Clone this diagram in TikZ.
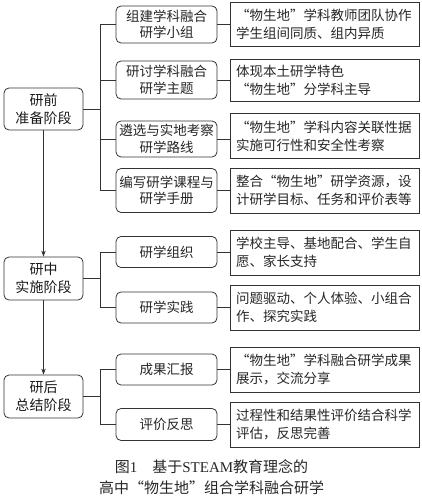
\documentclass[tikz,border=0pt]{standalone}
\usepackage{fontspec}
\setmainfont{Liberation Serif}
\newfontfamily\cjk{Noto Sans CJK SC}
\usetikzlibrary{arrows.meta}
\begin{document}
\begin{tikzpicture}[x=1pt,y=-1pt,
  line/.style={draw=black!80, line width=0.8pt},
  stagebox/.style={line, rounded corners=5pt, minimum width=79pt, align=center, inner sep=0pt, text=black!90,
    font=\cjk\fontsize{14}{18}\selectfont},
  midbox/.style={line, rounded corners=5pt, minimum width=101pt, align=center, inner sep=0pt, text=black!85,
    font=\cjk\fontsize{13.5}{16.5}\selectfont},
  rightbox/.style={line, text width=177pt, inner xsep=6pt, inner ysep=0pt, align=left, text=black!85,
    font=\cjk\fontsize{13.5}{18}\selectfont},
  conn/.style={line},
  arr/.style={line, -{Stealth[length=6pt,width=4.5pt]}}
]
\useasboundingbox (0,0) rectangle (422,500);

% stage boxes
\node[stagebox, minimum height=42pt] (s1) at (43.5,109) {研前\\准备阶段};
\node[stagebox, minimum height=43pt] (s2) at (43.5,278.5) {研中\\实施阶段};
\node[stagebox, minimum height=43pt] (s3) at (43.5,396.5) {研后\\总结阶段};

% middle boxes
\node[midbox, minimum height=37pt] (m1) at (166.5,24.5) {组建学科融合\\研学小组};
\node[midbox, minimum height=38pt] (m2) at (166.5,80) {研讨学科融合\\研学主题};
\node[midbox, minimum height=36pt] (m3) at (166.5,139) {遴选与实地考察\\研学路线};
\node[midbox, minimum height=44pt] (m4) at (166.5,190.5) {编写研学课程与\\研学手册};
\node[midbox, minimum height=31pt] (m5) at (166.5,252) {研学组织};
\node[midbox, minimum height=31pt] (m6) at (166.5,307.5) {研学实践};
\node[midbox, minimum height=31pt] (m7) at (166.5,369.5) {成果汇报};
\node[midbox, minimum height=32pt] (m8) at (166.5,424.5) {评价反思};

% right boxes
\node[rightbox, minimum height=44pt] (r1) at (324.5,24.5) {“物生地”学科教师团队协作\\学生组间同质、组内异质};
\node[rightbox, minimum height=42pt] (r2) at (324.5,80) {体现本土研学特色\\“物生地”分学科主导};
\node[rightbox, minimum height=45pt] (r3) at (324.5,136) {“物生地”学科内容关联性据\\实施可行性和安全性考察};
\node[rightbox, minimum height=45pt] (r4) at (324.5,190.5) {整合“物生地”研学资源，设\\计研学目标、任务和评价表等};
\node[rightbox, minimum height=45pt] (r5) at (324.5,252.5) {学校主导、基地配合、学生自\\愿、家长支持};
\node[rightbox, minimum height=45pt] (r6) at (324.5,307.5) {问题驱动、个人体验、小组合\\作、探究实践};
\node[rightbox, minimum height=45pt] (r7) at (324.5,369.5) {“物生地”学科融合研学成果\\展示，交流分享};
\node[rightbox, minimum height=45pt] (r8) at (324.5,424.5) {过程性和结果性评价结合科学\\评估，反思完善};

% trunks
\coordinate (t) at (100.5,0);
\draw[conn] (s1.east) -- (s1.east -| t);
\draw[conn] (m1.west) -- (m1.west -| t) -- (m4.west -| t) -- (m4.west);
\draw[conn] (m2.west) -- (m2.west -| t);
\draw[conn] (m3.west) -- (m3.west -| t);
\draw[conn] (s2.east) -- (s2.east -| t);
\draw[conn] (m5.west) -- (m5.west -| t) -- (m6.west -| t) -- (m6.west);
\draw[conn] (s3.east) -- (s3.east -| t);
\draw[conn] (m7.west) -- (m7.west -| t) -- (m8.west -| t) -- (m8.west);

% middle to right
\foreach \i in {1,...,8} {
  \draw[conn] (m\i.east) -- (m\i.east -| r\i.west);
}

% stage arrows
\draw[arr] (s1.south) -- (s2.north);
\draw[arr] (s2.south) -- (s3.north);

% caption
\node[align=center, font=\fontsize{15}{20.5}\selectfont, text=black!85] (cap) at (211.5,477)
  {{\cjk 图}1\quad{\cjk 基于}STEAM{\cjk 教育理念的}\\{\cjk 高中“物生地”组合学科融合研学}};
\end{tikzpicture}
\end{document}
